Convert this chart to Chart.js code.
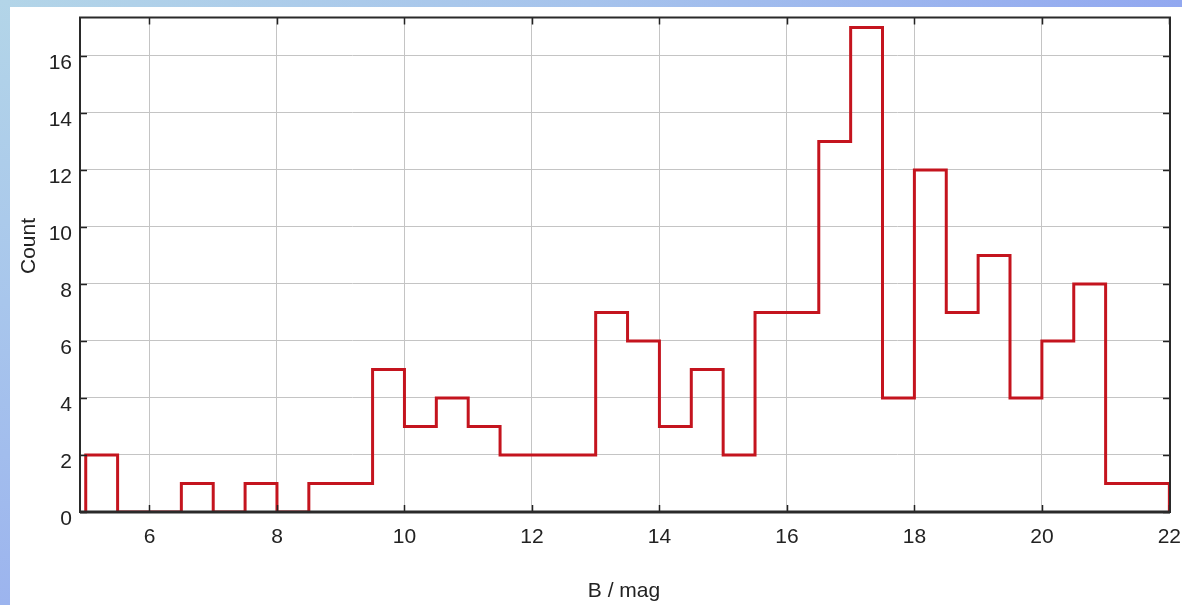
<!DOCTYPE html>
<html>
<head>
<meta charset="utf-8">
<script src="https://cdn.jsdelivr.net/npm/chart.js@4.4.1/dist/chart.umd.min.js"></script>
<style>
  html, body { margin:0; padding:0; width:1182px; height:605px; overflow:hidden; background:#fff; }
  #top { position:absolute; left:0; top:0; width:1182px; height:7px;
         background: linear-gradient(to right, #b3d5e8 0%, #a6c3ec 50%, #92a8f0 100%); }
  #left { position:absolute; left:0; top:0; width:10px; height:605px;
          background: linear-gradient(to bottom, #b3d5e8 0%, #a8c6ec 50%, #9cb4ee 100%); }
  #wrap { position:absolute; left:10px; top:7px; width:1172px; height:598px; background:#fff; }
</style>
</head>
<body>
<div id="top"></div>
<div id="left"></div>
<div id="wrap"><canvas id="c" width="1172" height="598"></canvas></div>
<script>
// Histogram: bin left edges (width 0.5 mag) and counts
const binWidth = 0.5;
const binLeftEdges = [5.0,5.5,6.0,6.5,7.0,7.5,8.0,8.5,9.0,9.5,10.0,10.5,11.0,11.5,12.0,12.5,13.0,13.5,14.0,14.5,15.0,15.5,16.0,16.5,17.0,17.5,18.0,18.5,19.0,19.5,20.0,20.5,21.0,21.5];
const counts       = [2,  0,  0,  1,  0,  1,  0,  1,  1,  5,  3,   4,   3,   2,   2,   2,   7,   6,   3,   5,   2,   7,   7,   13,  17,  4,   12,  7,   9,   4,   6,   8,   1,   1];
const xTickValues = [6,8,10,12,14,16,18,20,22];
const yTickValues = [0,2,4,6,8,10,12,14,16];
const xTitle = 'B / mag';
const yTitle = 'Count';

// outline points: each bin value is held from its left edge to the next edge
const pts = [{x: binLeftEdges[0], y: 0}];
binLeftEdges.forEach((e, i) => pts.push({x: e, y: counts[i]}));
pts.push({x: binLeftEdges[binLeftEdges.length-1] + binWidth, y: counts[counts.length-1]});
pts.push({x: binLeftEdges[binLeftEdges.length-1] + binWidth, y: 0});

const FONT = "'Liberation Sans', Arial, sans-serif";

const framePlugin = {
  id: 'frame',
  afterDatasetsDraw(chart) {
    const {ctx, chartArea: a, scales} = chart;
    ctx.save();
    ctx.strokeStyle = '#222';
    ctx.lineWidth = 1.5;
    xTickValues.forEach(v => {
      const px = Math.round(scales.x.getPixelForValue(v)) + 0.5;
      ctx.beginPath();
      ctx.moveTo(px, a.top); ctx.lineTo(px, a.top + 7);
      ctx.moveTo(px, a.bottom); ctx.lineTo(px, a.bottom - 7);
      ctx.stroke();
    });
    yTickValues.forEach(v => {
      const py = Math.round(scales.y.getPixelForValue(v)) + 0.5;
      ctx.beginPath();
      ctx.moveTo(a.left, py); ctx.lineTo(a.left + 7, py);
      ctx.moveTo(a.right, py); ctx.lineTo(a.right - 7, py);
      ctx.stroke();
    });
    ctx.strokeStyle = '#2a2a2a';
    ctx.lineWidth = 2;
    ctx.strokeRect(a.left, a.top, a.right - a.left, a.bottom - a.top);
    ctx.lineWidth = 3;
    ctx.beginPath(); ctx.moveTo(a.left, a.bottom); ctx.lineTo(a.right, a.bottom); ctx.stroke();
    ctx.fillStyle = '#222';
    ctx.font = '21px ' + FONT;
    ctx.textAlign = 'center';
    ctx.textBaseline = 'alphabetic';
    ctx.fillText(xTitle, 614, 590);
    ctx.translate(25, 239);
    ctx.rotate(-Math.PI/2);
    ctx.fillText(yTitle, 0, 0);
    ctx.restore();
  }
};

new Chart(document.getElementById('c'), {
  type: 'line',
  data: {
    datasets: [{
      data: pts,
      stepped: 'before',
      borderColor: '#c4141e',
      borderWidth: 3,
      pointRadius: 0,
      fill: false,
      clip: {left: 3, top: 3, right: 3, bottom: 0}
    }]
  },
  options: {
    responsive: false,
    animation: false,
    layout: { padding: { top: 10.5, right: 12, left: 0, bottom: 0 } },
    plugins: { legend: { display: false }, tooltip: { enabled: false } },
    scales: {
      x: {
        type: 'linear',
        min: 4.91, max: 22.01,
        afterBuildTicks: s => { s.ticks = xTickValues.map(v => ({value: v})); },
        afterFit: s => { s.height = 93; s.paddingLeft = 0; s.paddingRight = 0; },
        grid: { color: '#c4c4c4', lineWidth: 1, drawTicks: false },
        border: { display: false },
        ticks: { color: '#222', font: { family: FONT, size: 21 }, padding: 13, maxRotation: 0, autoSkip: false }
      },
      y: {
        type: 'linear',
        min: 0, max: 17.35,
        afterBuildTicks: s => { s.ticks = yTickValues.map(v => ({value: v})); },
        afterFit: s => { s.width = 70; s.paddingTop = 0; s.paddingBottom = 0; },
        grid: { color: '#c4c4c4', lineWidth: 1, drawTicks: false },
        border: { display: false },
        ticks: { color: '#222', font: { family: FONT, size: 21 }, padding: 8, labelOffset: 7, autoSkip: false }
      }
    }
  },
  plugins: [framePlugin]
});
</script>
</body>
</html>
